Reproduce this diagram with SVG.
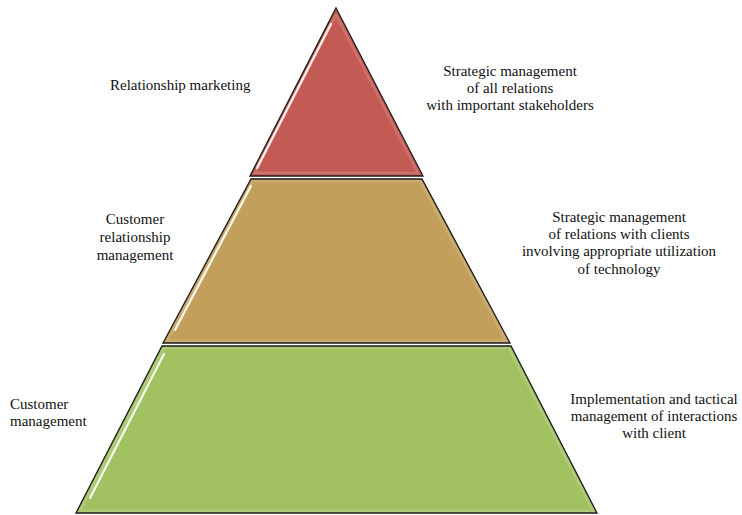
<svg xmlns="http://www.w3.org/2000/svg" width="742" height="515" viewBox="0 0 742 515">
  <style>
    .band { stroke: #1a1a1a; stroke-width: 1.3; stroke-linejoin: miter; }
    .bevel { fill: none; stroke: #ffffff; stroke-opacity: 0.14; stroke-width: 2.5; }
    .shine { fill: none; stroke: #ffffff; stroke-width: 2.2; stroke-linecap: round; stroke-opacity: 0.9; }
    text { font-family: 'Liberation Serif', 'Times New Roman', 'DejaVu Serif', serif; font-size: 15px; fill: #111111; }
    .c { text-anchor: middle; }
  </style>
  <rect width="742" height="515" fill="#ffffff"/>

  <!-- top tier -->
  <g id="tier-relationship-marketing">
    <polygon class="band" fill="#c45a54" points="336,8 423,176 250,176"/>
    <polygon class="bevel" points="336,15 418,173 255,173"/>
    <line class="shine" x1="331" y1="24" x2="257" y2="168"/>
  </g>

  <!-- middle tier -->
  <g id="tier-crm">
    <polygon class="band" fill="#c29f5a" points="251,179 422,179 510,343 163,343"/>
    <polygon class="bevel" points="253,181 420,181 506,341 167,341"/>
    <line class="shine" x1="251" y1="186" x2="175" y2="330"/>
  </g>

  <!-- bottom tier -->
  <g id="tier-customer-management">
    <polygon class="band" fill="#a2c262" points="162,346 511,346 597,513 76,513"/>
    <polygon class="bevel" points="164,348 509,348 593,511 80,511"/>
    <line class="shine" x1="164" y1="354" x2="90" y2="498"/>
  </g>

  <g id="connectors"></g>

  <!-- left labels -->
  <g id="labels-left">
    <text font-family="Liberation Serif, serif" x="110" y="90">Relationship marketing</text>
    <text class="c" x="135" y="224">Customer</text>
    <text class="c" x="135" y="242">relationship</text>
    <text class="c" x="135" y="260">management</text>
    <text x="10" y="409">Customer</text>
    <text x="10" y="426">management</text>
  </g>

  <!-- right labels -->
  <g id="labels-right">
    <text class="c" x="510" y="76">Strategic management</text>
    <text class="c" x="510" y="93">of all relations</text>
    <text class="c" x="510" y="110">with important stakeholders</text>
    <text class="c" x="619" y="222">Strategic management</text>
    <text class="c" x="619" y="239">of relations with clients</text>
    <text class="c" x="619" y="256">involving appropriate utilization</text>
    <text class="c" x="619" y="274">of technology</text>
    <text class="c" x="654" y="404">Implementation and tactical</text>
    <text class="c" x="654" y="421">management of interactions</text>
    <text class="c" x="654" y="438">with client</text>
  </g>
</svg>
